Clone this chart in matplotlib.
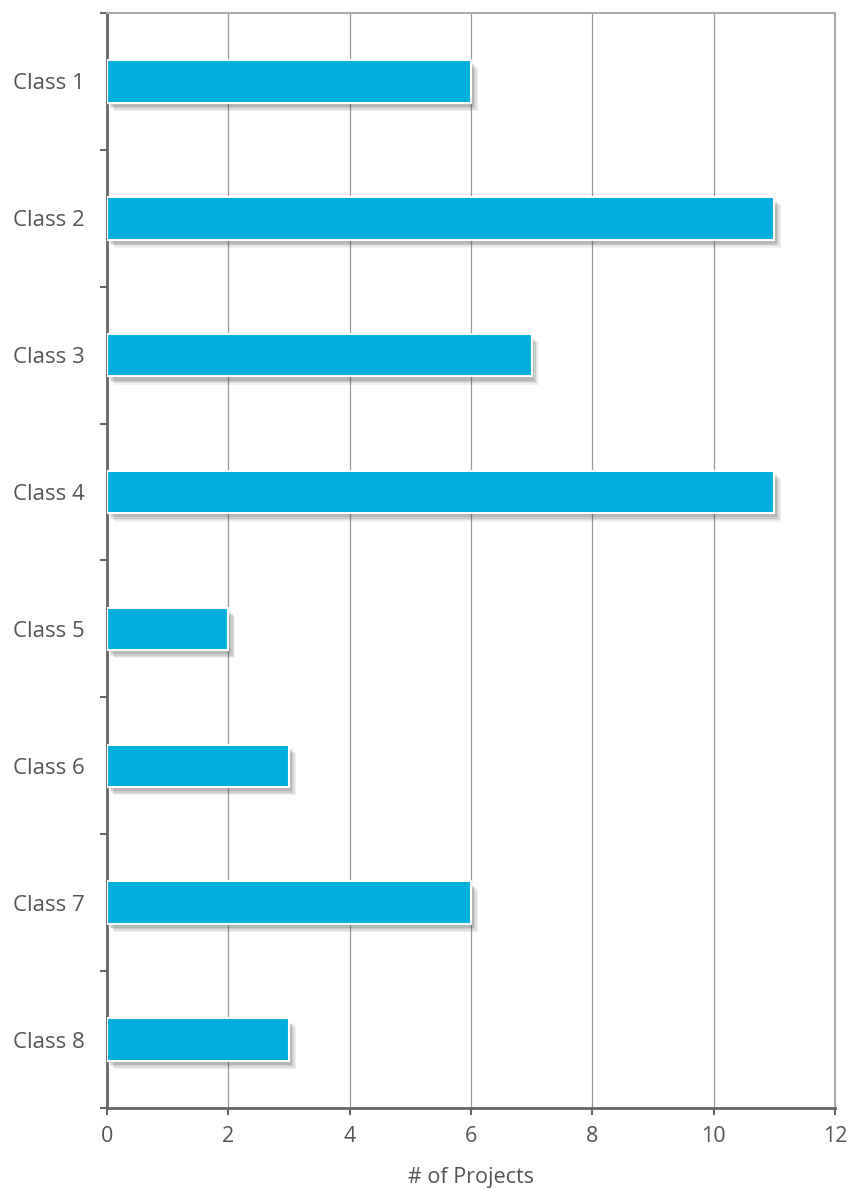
import numpy as np
import matplotlib
matplotlib.use('Agg')
import matplotlib.pyplot as plt
import matplotlib.patheffects as pe

# data
classes = ['Class 1', 'Class 2', 'Class 3', 'Class 4',
           'Class 5', 'Class 6', 'Class 7', 'Class 8']
projects = [6, 11, 7, 11, 2, 3, 6, 3]
xticks = [0, 2, 4, 6, 8, 10, 12]

plt.rcParams['font.family'] = ['Open Sans', 'DejaVu Sans']

fig = plt.figure(figsize=(8.52, 11.90), dpi=100)
ax = fig.add_axes([0.1256, 0.0689, 0.8544, 0.9202])

pos = np.arange(len(classes))
bars = ax.barh(pos, projects, height=0.31, color='#00AEDD',
               edgecolor='white', linewidth=1.5, zorder=3)
# soft shadow: a few stacked offsets with low alpha
shadow = []
for dx, dy, a in [(5, -6, 0.08), (4, -5, 0.1), (3, -4, 0.12), (2, -3, 0.15)]:
    shadow.append(pe.SimplePatchShadow(offset=(dx, dy), shadow_rgbFace='#444444', alpha=a))
for b in bars:
    b.set_path_effects(shadow + [pe.Normal()])

ax.set_ylim(len(classes) - 0.5, -0.5)
ax.set_xlim(0, 12)
ax.set_xticks(xticks)
ax.set_yticks(pos)
ax.set_yticklabels(classes)
ax.set_yticks(np.arange(-0.5, len(classes)), minor=True)

ax.grid(axis='x', color='#999999', linewidth=0.9, zorder=0)
ax.set_axisbelow(True)

for s in ['top', 'right']:
    ax.spines[s].set_color('#AAAAAA')
    ax.spines[s].set_linewidth(1.5)
for s in ['left', 'bottom']:
    ax.spines[s].set_color('#666666')
    ax.spines[s].set_linewidth(2)

ax.tick_params(axis='y', which='major', length=0, pad=16, labelsize=16, labelcolor='#555555')
ax.tick_params(axis='y', which='minor', length=5, width=1.5, color='#666666')
ax.tick_params(axis='x', which='major', length=5, width=1.5, color='#666666',
               labelsize=15.5, labelcolor='#555555', pad=8)

ax.set_xlabel('# of Projects', fontsize=15.5, color='#555555', labelpad=14)

fig.savefig('out.png', dpi=100)
